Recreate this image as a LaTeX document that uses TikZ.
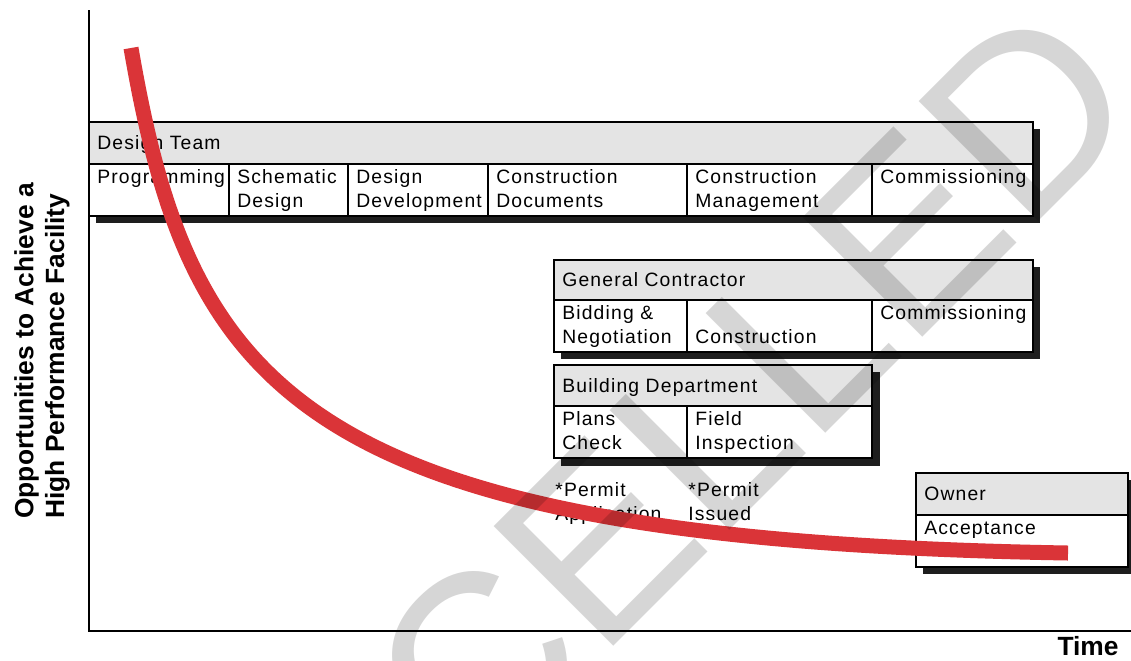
\documentclass[tikz,border=0pt]{standalone}
\usepackage{fontspec}
\setmainfont{Liberation Sans}
\newfontfamily\cellfont[LetterSpace=6]{Liberation Sans}

\definecolor{headgray}{RGB}{228,228,228}
\definecolor{shadowgray}{RGB}{30,30,30}
\definecolor{curvered}{RGB}{218,52,56}

\begin{document}
\begin{tikzpicture}[x=0.02cm,y=-0.02cm,
  frame/.style={draw=black,line width=0.8pt},
  head/.style={frame,fill=headgray},
  cell/.style={frame,fill=white},
  drop/.style={fill=shadowgray},
  lbl/.style={inner sep=0pt,anchor=north west,align=left,
    font=\cellfont\fontsize{11}{13.6}\selectfont},
  headlbl/.style={lbl,anchor=base west},
  axislbl/.style={inner sep=0pt,font=\bfseries\fontsize{15}{17.6}\selectfont},
  axis/.style={line width=1.2pt},
  effort/.style={draw=curvered,line width=0.3cm},
  stamp/.style={inner sep=0pt,rotate=45,text=black,text opacity=0.16,
    font=\fontsize{140}{140}\selectfont}]
  \useasboundingbox (0,0) rectangle (1131,660);

  \coordinate (ytop) at (89,10);
  \coordinate (origin) at (89,631);
  \coordinate (xend) at (1131,631);
  \draw[axis] (ytop) -- (origin) -- (xend);
  \node[axislbl,rotate=90,align=left] (ylabel) at (42,351)
    {Opportunities to Achieve a\\High Performance Facility};
  \node[axislbl] (time) at (1088,646) {Time};

  % design team
  \fill[drop] (96,129) rectangle (1040,223);
  \filldraw[head] (89,122) rectangle (1033,164);
  \filldraw[cell] (89,164) rectangle (1033,216);
  \foreach \x in {229,348,488,687,872}
    \draw[frame] (\x,164) -- (\x,216);
  \node[headlbl] (dt) at (97,149) {Design Team};
  \node[lbl] (dt-prog) at (97,169) {Programming};
  \node[lbl] (dt-sd) at (237,169) {Schematic\\Design};
  \node[lbl] (dt-dd) at (356,169) {Design\\Development};
  \node[lbl] (dt-cd) at (496,169) {Construction\\Documents};
  \node[lbl] (dt-cm) at (695,169) {Construction\\Management};
  \node[lbl] (dt-comm) at (880,169) {Commissioning};

  % general contractor
  \fill[drop] (561,267) rectangle (1040,359);
  \filldraw[head] (554,260) rectangle (1033,300);
  \filldraw[cell] (554,300) rectangle (1033,352);
  \foreach \x in {687,872}
    \draw[frame] (\x,300) -- (\x,352);
  \node[headlbl] (gc) at (562,286) {General Contractor};
  \node[lbl] (gc-bid) at (562,305) {Bidding \&\\Negotiation};
  \node[lbl] (gc-con) at (695,329) {Construction};
  \node[lbl] (gc-comm) at (880,305) {Commissioning};

  % building department
  \fill[drop] (561,372) rectangle (880,466);
  \filldraw[head] (554,365) rectangle (872,406);
  \filldraw[cell] (554,406) rectangle (872,458);
  \draw[frame] (687,406) -- (687,458);
  \node[headlbl] (bd) at (562,392) {Building Department};
  \node[lbl] (bd-plans) at (562,411) {Plans\\Check};
  \node[lbl] (bd-field) at (695,411) {Field\\Inspection};

  \node[lbl] (permit-app) at (555,482) {*Permit\\Application};
  \node[lbl] (permit-iss) at (688,482) {*Permit\\Issued};

  % owner
  \fill[drop] (923,480) rectangle (1135,574);
  \filldraw[head] (916,473) rectangle (1128,515);
  \filldraw[cell] (916,515) rectangle (1128,567);
  \node[headlbl] (own) at (924,500) {Owner};
  \node[lbl] (own-acc) at (924,521) {Acceptance};

  \coordinate (peak) at (131,48);
  \coordinate (floor) at (1068,553);
  \draw[effort] (peak) .. controls (190,390) and (300,540) .. (floor);

  \node[stamp] (stamp) at (752,388) {CELLED};
\end{tikzpicture}
\end{document}
